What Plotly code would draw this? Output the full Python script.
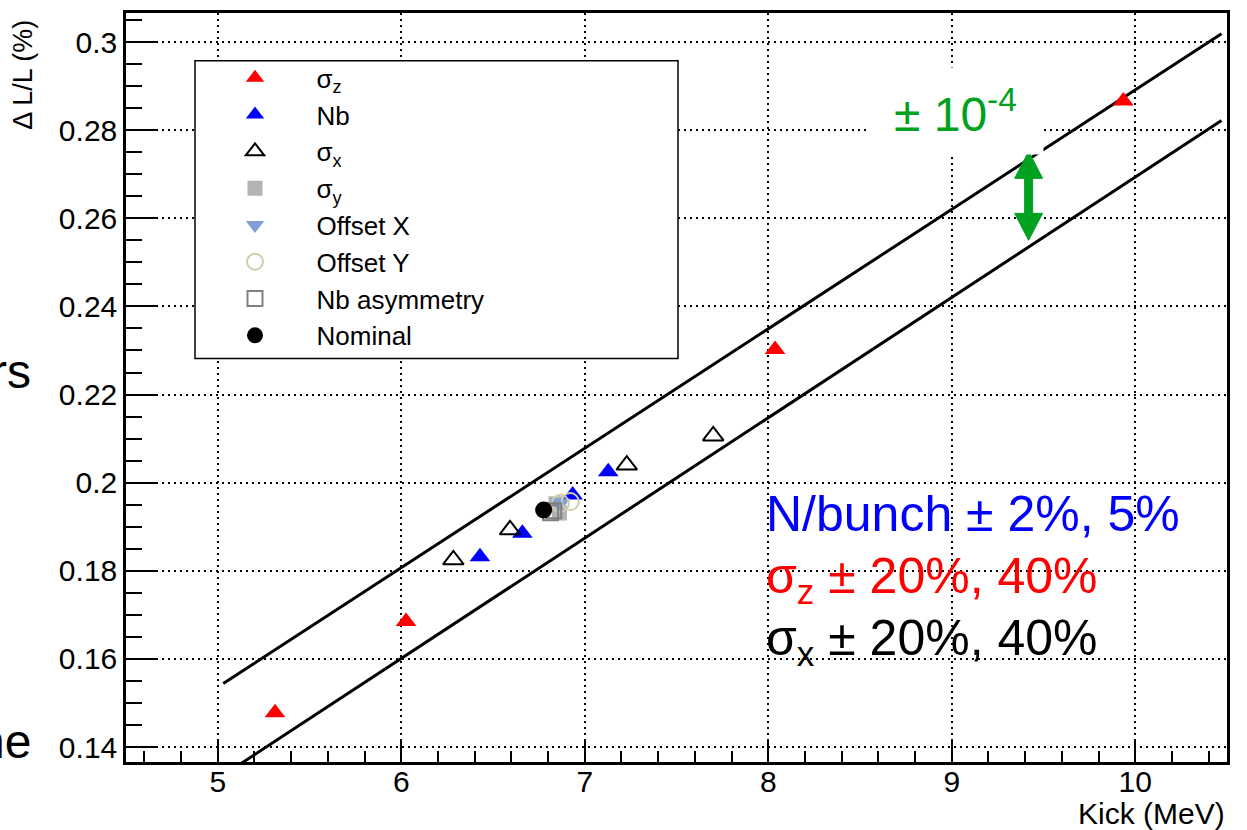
import plotly.graph_objects as go

# ---- measured points: kick (MeV) vs luminosity shift dL/L (%) ----
sigz_kick = [5.312, 6.026, 8.037, 9.935]
sigz_dl = [0.1478, 0.1685, 0.2302, 0.2866]

nb_kick = [6.429, 6.660, 6.934, 7.128]
nb_dl = [0.1832, 0.1885, 0.1972, 0.2025]

sigx_kick = [6.284, 6.593, 7.229, 7.700]
sigx_dl = [0.1825, 0.1893, 0.2040, 0.2106]

sigy_kick = [6.843, 6.862]
sigy_dl = [0.1952, 0.1931]

offx_kick = [6.865]
offx_dl = [0.1954]

offy_kick = [6.867, 6.921]
offy_dl = [0.1953, 0.1957]

nbasym_kick = [6.814, 6.831]
nbasym_dl = [0.1932, 0.1936]

nominal_kick = [6.776]
nominal_dl = [0.1938]

# band edges (+/- 1e-4 around the linear trend)
band_kick = [5.03, 10.47]
band_upper = [0.1544, 0.3019]
band_lower = [0.1336, 0.2822]

x_tickvals = [5, 6, 7, 8, 9, 10]
x_ticktext = ["5", "6", "7", "8", "9", "10"]
y_tickvals = [0.14, 0.16, 0.18, 0.20, 0.22, 0.24, 0.26, 0.28, 0.30]
y_ticktext = ["0.14", "0.16", "0.18", "0.2", "0.22", "0.24", "0.26", "0.28", "0.3"]

FONT = "Liberation Sans, Arial, Helvetica, sans-serif"
W, H = 1247, 830
ML, MR, MT, MB = 126, 20, 10, 68
PW, PH = W - ML - MR, H - MT - MB


def px(x):
    return (x - ML) / PW


def py(y):
    return (H - MB - y) / PH


fig = go.Figure()

# band lines
for yy in (band_upper, band_lower):
    fig.add_trace(go.Scatter(x=band_kick, y=yy, mode="lines",
                             line=dict(color="black", width=3),
                             showlegend=False, hoverinfo="skip"))

series = [
    ("σ<sub>z</sub>", sigz_kick, sigz_dl,
     dict(symbol="triangle-up", color="#ff0000", size=18)),
    ("Nb", nb_kick, nb_dl,
     dict(symbol="triangle-up", color="#0000ff", size=18)),
    ("σ<sub>x</sub>", sigx_kick, sigx_dl,
     dict(symbol="triangle-up-open", color="black", size=18,
          line=dict(width=2, color="black"))),
    ("σ<sub>y</sub>", sigy_kick, sigy_dl,
     dict(symbol="square", color="#b3b3b3", size=15)),
    ("Offset X", offx_kick, offx_dl,
     dict(symbol="triangle-down", color="#7f9fd6", size=18)),
    ("Offset Y", offy_kick, offy_dl,
     dict(symbol="circle-open", color="#d2ccae", size=17,
          line=dict(width=2, color="#d2ccae"))),
    ("Nb asymmetry", nbasym_kick, nbasym_dl,
     dict(symbol="square-open", color="#808080", size=15,
          line=dict(width=2, color="#808080"))),
    ("Nominal", nominal_kick, nominal_dl,
     dict(symbol="circle", color="black", size=17)),
]
for name, xs, ys, mk in series:
    fig.add_trace(go.Scatter(x=xs, y=ys, mode="markers", name=name,
                             marker=mk, showlegend=True))

axis_common = dict(
    showline=True, linecolor="black", linewidth=2.5, mirror=True,
    ticks="inside", tickcolor="black", tickwidth=2,
    showgrid=True, gridcolor="black", gridwidth=2, griddash="2px,4px",
    zeroline=False, tickfont=dict(family=FONT, size=30, color="black"),
)

fig.update_xaxes(
    range=[4.5, 10.5], tickmode="array", tickvals=x_tickvals, ticktext=x_ticktext,
    ticklen=22, ticklabelstandoff=-9,
    minor=dict(tickmode="linear", tick0=0, dtick=0.2, ticks="inside",
               ticklen=11, tickwidth=2, tickcolor="black", showgrid=False),
    **axis_common)
fig.update_yaxes(
    range=[0.1366, 0.3066], tickmode="array", tickvals=y_tickvals, ticktext=y_ticktext,
    ticklen=32, ticklabelstandoff=0,
    minor=dict(tickmode="linear", tick0=0, dtick=0.005, ticks="inside",
               ticklen=16, tickwidth=2, tickcolor="black", showgrid=False),
    **axis_common)

# legend frame
fig.add_shape(type="rect", xref="paper", yref="paper",
              x0=px(195), x1=px(678), y0=py(357), y1=py(58),
              fillcolor="white", line=dict(color="black", width=1.5), layer="above")

fig.update_layout(
    width=W, height=H,
    margin=dict(l=ML, r=MR, t=MT, b=MB),
    paper_bgcolor="white", plot_bgcolor="white",
    font=dict(family=FONT, color="black"),
    legend=dict(x=px(193.5), y=py(51.5), xanchor="left", yanchor="top",
                bgcolor="rgba(0,0,0,0)", borderwidth=0, itemwidth=113,
                font=dict(family=FONT, size=26, color="black"),
                tracegroupgap=0),
    showlegend=True,
)

GREEN = "#00a020"
# double-headed arrow showing the band half-width
fig.add_shape(type="path", xref="x", yref="y",
              xsizemode="pixel", ysizemode="pixel",
              xanchor=9.419, yanchor=0.2651,
              path=("M -4,-17.5 L -4,17.5 L -14,17.5 L 0,44.5 L 14,17.5 L 4,17.5 "
                    "L 4,-17.5 L 14,-17.5 L 0,-44.5 L -14,-17.5 Z"),
              fillcolor=GREEN, line=dict(color=GREEN, width=1), layer="above")

ann = []
ann.append(dict(text="± 10<sup>-4</sup>", xref="paper", yref="paper",
                x=px(955.5), y=py(108), xanchor="center", yanchor="middle",
                width=175, height=86, borderpad=0, bgcolor="white",
                font=dict(family=FONT, size=48, color=GREEN), showarrow=False))

lines = [
    ("N/bunch ± 2%, 5%", "#0000ff", 530),
    ("σ<sub>z</sub> ± 20%, 40%", "#ff0000", 592),
    ("σ<sub>x</sub> ± 20%, 40%", "black", 654),
]
for txt, col, base in lines:
    ann.append(dict(text=txt, xref="paper", yref="paper",
                    x=px(765), y=py(base - 46), xanchor="left", yanchor="top",
                    borderpad=0, font=dict(family=FONT, size=50, color=col),
                    showarrow=False))

ann.append(dict(text="Δ L/L (%)", xref="paper", yref="paper",
                x=px(23), y=py(72), xanchor="center", yanchor="middle",
                textangle=-90, font=dict(family=FONT, size=27, color="black"),
                showarrow=False))
ann.append(dict(text="Kick (MeV)", xref="paper", yref="paper",
                x=px(1227), y=py(814), xanchor="right", yanchor="middle",
                font=dict(family=FONT, size=30, color="black"), showarrow=False))
ann.append(dict(text="rs", xref="paper", yref="paper",
                x=px(33), y=py(370), xanchor="right", yanchor="middle",
                font=dict(family=FONT, size=48, color="black"), showarrow=False))
ann.append(dict(text="ne", xref="paper", yref="paper",
                x=px(33), y=py(741), xanchor="right", yanchor="middle",
                font=dict(family=FONT, size=48, color="black"), showarrow=False))
fig.update_layout(annotations=ann)

fig.write_html("out.html")
